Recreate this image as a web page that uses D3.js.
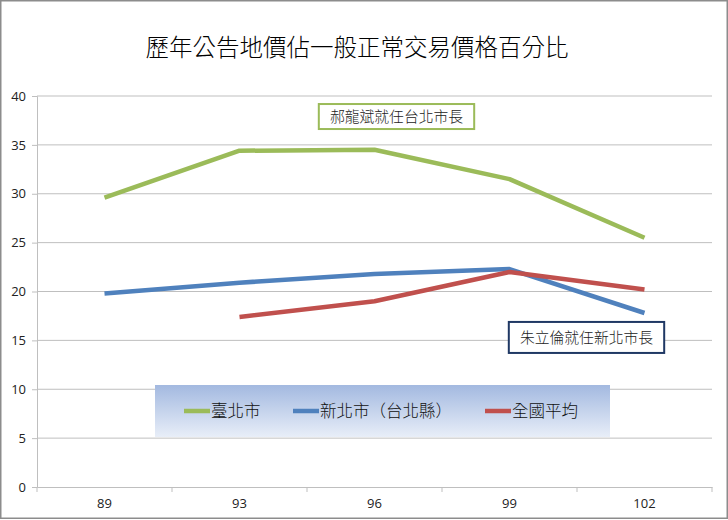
<!DOCTYPE html>
<html><head><meta charset="utf-8">
<script src="https://cdn.jsdelivr.net/npm/d3@7"></script>
<style>body{margin:0;background:#fff}svg{display:block}text{font-family:"Noto Sans CJK TC","Noto Sans CJK SC",sans-serif}.cjk{font-weight:300}</style>
</head><body><svg id="c" width="728" height="520"></svg>
<script>
const title = "歷年公告地價佔一般正常交易價格百分比";
const categories = ["89","93","96","99","102"];
const taipei = [29.6, 34.4, 34.5, 31.5, 25.5];
const newTaipei = [19.8, 20.9, 21.8, 22.3, 17.8];
const national = [null, 17.4, 19.0, 22.0, 20.2];
const seriesNames = ["臺北市","新北市（台北縣）","全國平均"];
const seriesColors = ["#9bbb59","#4f81bd","#c0504d"];
const yTicks = [0,5,10,15,20,25,30,35,40];
const noteTexts = ["郝龍斌就任台北市長","朱立倫就任新北市長"];
const noteCats = ["96","99"];
const noteVals = [37.9, 15.3];
const noteColors = ["#9bbb59","#1f3864"];

const svg = d3.select("#c");
svg.append("rect").attr("x",0.75).attr("y",0.75).attr("width",726.5).attr("height",517.5).attr("fill","#fff").attr("stroke","#8c8c8c").attr("stroke-width",1.5);

const L=37, R=712, T=96, B=487;
const x = d3.scaleBand().domain(categories).range([L,R]);
const y = d3.scaleLinear().domain([0,40]).range([B,T]);

svg.append("text").attr("class","cjk").attr("x",357).attr("y",56).attr("text-anchor","middle").attr("font-size",23.5).attr("fill","#000").text(title);

// grid
svg.append("g").selectAll("line").data(yTicks.filter(d=>d>0)).join("line")
  .attr("x1",L).attr("x2",R).attr("y1",d=>y(d)).attr("y2",d=>y(d)).attr("stroke","#bfbfbf").attr("stroke-width",1);

// y axis
const ya = svg.append("g").attr("transform",`translate(${L},0)`).call(d3.axisLeft(y).tickValues(yTicks).tickSize(5).tickPadding(6));
ya.select(".domain").attr("stroke","#bfbfbf");
ya.selectAll(".tick line").attr("stroke","#bfbfbf");
ya.selectAll("text").attr("font-size",13).attr("fill","#222").style("font-family","'Open Sans',sans-serif");

// x axis
const xa = svg.append("g").attr("transform",`translate(0,${B})`).call(d3.axisBottom(x).tickSize(0).tickPadding(12));
xa.select(".domain").attr("stroke","#bfbfbf");
xa.selectAll("text").attr("font-size",13).attr("fill","#222").style("font-family","'Open Sans',sans-serif");
const edges = categories.map(c=>x(c)).concat([R]);
svg.append("g").selectAll("line").data(edges).join("line")
  .attr("x1",d=>d).attr("x2",d=>d).attr("y1",B).attr("y2",B+5).attr("stroke","#bfbfbf");

// lines
const all = [taipei,newTaipei,national];
const line = d3.line().defined(d=>d.v!=null).x(d=>x(d.c)+x.bandwidth()/2).y(d=>y(d.v));
all.forEach((s,i)=>{
  svg.append("path").datum(categories.map((c,j)=>({c,v:s[j]})))
    .attr("d",line).attr("fill","none").attr("stroke",seriesColors[i]).attr("stroke-width",4.5).attr("stroke-linejoin","round");
});

// legend
const defs = svg.append("defs");
const g = defs.append("linearGradient").attr("id","lg").attr("x1",0).attr("y1",0).attr("x2",0).attr("y2",1);
g.append("stop").attr("offset","0%").attr("stop-color","#a3b9e0");
g.append("stop").attr("offset","100%").attr("stop-color","#e8eef8");
svg.append("rect").attr("x",155).attr("y",385).attr("width",455).attr("height",52).attr("fill","url(#lg)");
const legX = [184,293,485];
seriesNames.forEach((n,i)=>{
  svg.append("line").attr("x1",legX[i]).attr("x2",legX[i]+26).attr("y1",411).attr("y2",411).attr("stroke",seriesColors[i]).attr("stroke-width",4.5);
  svg.append("text").attr("class","cjk").attr("x",legX[i]+27).attr("y",417).attr("font-size",16.5).attr("fill","#111").text(n);
});

// notes
const boxH = [25,31];
noteTexts.forEach((txt,i)=>{
  const cx = x(noteCats[i]) + x.bandwidth()/2 + (i===0 ? 22 : 77);
  const cy = y(noteVals[i]);
  const ng = svg.append("g");
  const r = ng.append("rect");
  const t = ng.append("text").attr("class","cjk").attr("x",cx).attr("y",cy).attr("dy","0.36em").attr("text-anchor","middle").attr("font-size",14.8).attr("fill","#222").text(txt);
  const bb = t.node().getBBox();
  const w = bb.width + 22;
  r.attr("x",cx-w/2).attr("y",cy-boxH[i]/2).attr("width",w).attr("height",boxH[i])
    .attr("fill","#fff").attr("stroke",noteColors[i]).attr("stroke-width",2);
});
</script></body></html>
